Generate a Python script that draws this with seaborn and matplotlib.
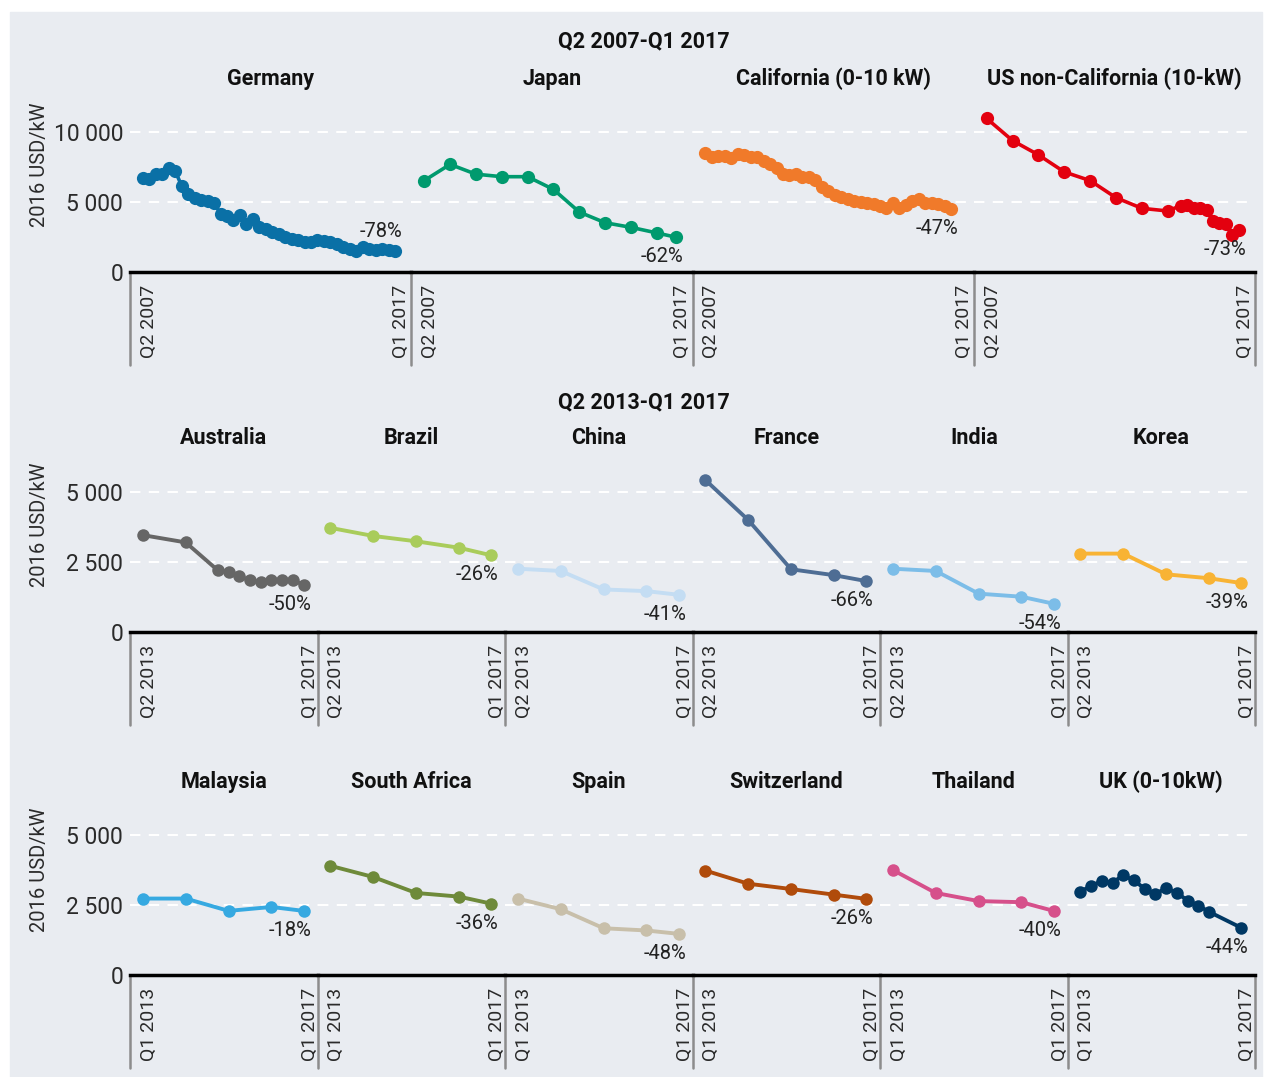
import matplotlib
matplotlib.use("Agg")
import matplotlib.pyplot as plt
import seaborn as sns
from matplotlib.patches import Rectangle
from matplotlib.ticker import FuncFormatter
from matplotlib.transforms import ScaledTranslation

W, H = 1266, 1077
BG = "#e9ecf1"

# ---- Q2 2007 - Q1 2017 (quarter index 0..39) ----
germany_x = list(range(40))
germany = [6740, 6670, 6980, 6980, 7450, 7210, 6140, 5600, 5310, 5120,
           5070, 4950, 4170, 4000, 3690, 4070, 3450, 3760, 3210, 3050,
           2880, 2690, 2500, 2330, 2260, 2170, 2170, 2260, 2210, 2170,
           1980, 1790, 1620, 1500, 1790, 1620, 1600, 1670, 1550, 1480]
japan_x = [0, 4, 8, 12, 16, 20, 24, 28, 32, 36, 39]
japan = [6530, 7690, 6990, 6810, 6810, 5900, 4280, 3520, 3190, 2790, 2480]
california_x = list(range(39))
california = [8520, 8210, 8290, 8290, 8120, 8450, 8360, 8210, 8210, 7930,
              7690, 7450, 6980, 6900, 6980, 6790, 6790, 6550, 6070, 5790,
              5500, 5360, 5190, 5070, 5000, 4950, 4830, 4710, 4600, 4950,
              4600, 4790, 5070, 5190, 4950, 4950, 4830, 4710, 4520]
us_x = [0, 4, 8, 12, 16, 20, 24, 28, 30, 31, 32, 33, 34, 35, 36, 37, 38, 39]
us = [10970, 9390, 8370, 7150, 6530, 5310, 4550, 4360, 4740, 4790,
      4600, 4550, 4430, 3660, 3490, 3420, 2670, 3020]

# ---- 2013 - Q1 2017 (quarter index 0..15) ----
five_x = [0, 4, 8, 12, 15]
australia_x = [0, 4, 7, 8, 9, 10, 11, 12, 13, 14, 15]
australia = [3460, 3200, 2200, 2150, 2000, 1840, 1790, 1840, 1860, 1860, 1680]
brazil = [3720, 3430, 3240, 3010, 2740]
china = [2260, 2180, 1520, 1460, 1330]
france = [5430, 4000, 2240, 2030, 1820]
india = [2260, 2180, 1370, 1260, 1010]
korea = [2800, 2800, 2060, 1920, 1750]

malaysia = [2730, 2730, 2290, 2430, 2290]
south_africa = [3900, 3500, 2930, 2800, 2550]
spain = [2730, 2350, 1670, 1590, 1470]
switzerland = [3730, 3260, 3070, 2870, 2720]
thailand = [3750, 2930, 2640, 2600, 2290]
uk_x = [0, 1, 2, 3, 4, 5, 6, 7, 8, 9, 10, 11, 12, 15]
uk = [2980, 3180, 3360, 3300, 3560, 3380, 3080, 2900, 3100, 2940, 2660, 2480, 2260, 1690]

rows = [
    dict(bottom=272, top=100, ymax=12290, yticks=[0, 5000, 10000], xlim=(-2, 41.5),
         xend=39, xlabels=["Q2 2007", "Q1 2017"], title_y=79, ylab_y=165, sep=365,
         group=("Q2 2007-Q1 2017", 41), ms=9.5, lw=2.6,
         panels=[("Germany", germany_x, germany, "#0a70a6", "-78%", 1),
                 ("Japan", japan_x, japan, "#009a6e", "-62%", -1),
                 ("California (0-10 kW)", california_x, california, "#f07a2a", "-47%", -1),
                 ("US non-California (10-kW)", us_x, us, "#e3000f", "-73%", -1)]),
    dict(bottom=632, top=460, ymax=6143, yticks=[0, 2500, 5000], xlim=(-1.2, 16.3),
         xend=15, xlabels=["Q2 2013", "Q1 2017"], title_y=438, ylab_y=525, sep=725,
         group=("Q2 2013-Q1 2017", 402), ms=9, lw=2.8,
         panels=[("Australia", australia_x, australia, "#666666", "-50%", -1),
                 ("Brazil", five_x, brazil, "#a9cc5b", "-26%", -1),
                 ("China", five_x, china, "#c4ddf3", "-41%", -1),
                 ("France", five_x, france, "#4e6d94", "-66%", -1),
                 ("India", five_x, india, "#7cbde8", "-54%", -1),
                 ("Korea", five_x, korea, "#f8b334", "-39%", -1)]),
    dict(bottom=975, top=810, ymax=5893, yticks=[0, 2500, 5000], xlim=(-1.2, 16.3),
         xend=15, xlabels=["Q1 2013", "Q1 2017"], title_y=782, ylab_y=870, sep=1068,
         group=None, ms=9, lw=2.8,
         panels=[("Malaysia", five_x, malaysia, "#36a9e1", "-18%", -1),
                 ("South Africa", five_x, south_africa, "#6e8a3a", "-36%", -1),
                 ("Spain", five_x, spain, "#c8bfaa", "-48%", -1),
                 ("Switzerland", five_x, switzerland, "#b04b0b", "-26%", -1),
                 ("Thailand", five_x, thailand, "#d6508b", "-40%", -1),
                 ("UK (0-10kW)", uk_x, uk, "#003864", "-44%", -1)]),
]

sns.set_style("white")
plt.rcParams["font.family"] = ["Roboto", "DejaVu Sans"]

fig = plt.figure(figsize=(W / 100, H / 100), dpi=100)
fig.patch.set_facecolor("white")
fig.patches.append(Rectangle((10 / W, 0), (W - 14) / W, (H - 12) / H,
                             transform=fig.transFigure, color=BG, zorder=-10))

X0, X1 = 130, 1255
fmt = FuncFormatter(lambda v, p: f"{v:,.0f}".replace(",", " "))
shift = ScaledTranslation(6 / 100, 0, fig.dpi_scale_trans)

for row in rows:
    n = len(row["panels"])
    pw = (X1 - X0) / n
    hpx = row["bottom"] - row["top"]
    for i, (name, xs, ys, color, pct, side) in enumerate(row["panels"]):
        left = X0 + i * pw
        ax = fig.add_axes([left / W, 1 - row["bottom"] / H, pw / W, hpx / H])
        ax.set_facecolor("none")
        sns.lineplot(x=xs, y=ys, ax=ax, color=color, marker="o",
                     markersize=row["ms"], markeredgewidth=0, linewidth=row["lw"])
        ax.set_xlim(*row["xlim"])
        ax.set_ylim(0, row["ymax"])
        ax.set_yticks(row["yticks"])
        ax.yaxis.set_major_formatter(fmt)
        ax.yaxis.grid(True, color="white", linestyle=(0, (5, 4)), linewidth=1.5)
        ax.set_axisbelow(True)
        ax.set_xticks([0, row["xend"]], row["xlabels"], rotation=90)
        ax.tick_params(axis="x", length=0, pad=9, labelsize=14, labelcolor="#2a2a2a")
        for lab in ax.get_xticklabels():
            lab.set_transform(lab.get_transform() + shift)
        if i == 0:
            ax.tick_params(axis="y", length=0, pad=5, labelsize=16.5, labelcolor="#2a2a2a")
        else:
            ax.tick_params(axis="y", length=0, labelleft=False)
        ax.set_xlabel("")
        ax.set_ylabel("")
        for s in ["top", "right", "left"]:
            ax.spines[s].set_visible(False)
        ax.spines["bottom"].set_color("black")
        ax.spines["bottom"].set_linewidth(2.5)
        sep_frac = (row["sep"] - row["bottom"]) / hpx
        ax.plot([0, 0], [0, -sep_frac], transform=ax.transAxes, color="#8c8c8c",
                lw=1.8, clip_on=False)
        if i == n - 1:
            ax.plot([1, 1], [0, -sep_frac], transform=ax.transAxes, color="#8c8c8c",
                    lw=1.8, clip_on=False)
        ax.annotate(pct, (xs[-1], ys[-1]), xytext=(-10, 14 * side),
                    textcoords="offset points", ha="center", va="center",
                    fontsize=14.5, color="#222222")
        fig.text((left + pw / 2) / W, 1 - row["title_y"] / H, name, ha="center",
                 va="center", fontsize=15.5, fontweight="bold", color="#111111")
    fig.text(40 / W, 1 - row["ylab_y"] / H, "2016 USD/kW", rotation=90,
             ha="center", va="center", fontsize=14.5, color="#2a2a2a")
    if row["group"]:
        fig.text(644 / W, 1 - row["group"][1] / H, row["group"][0], ha="center",
                 va="center", fontsize=15.5, fontweight="bold", color="#111111")

fig.savefig("out.png", dpi=100, facecolor=fig.get_facecolor())
